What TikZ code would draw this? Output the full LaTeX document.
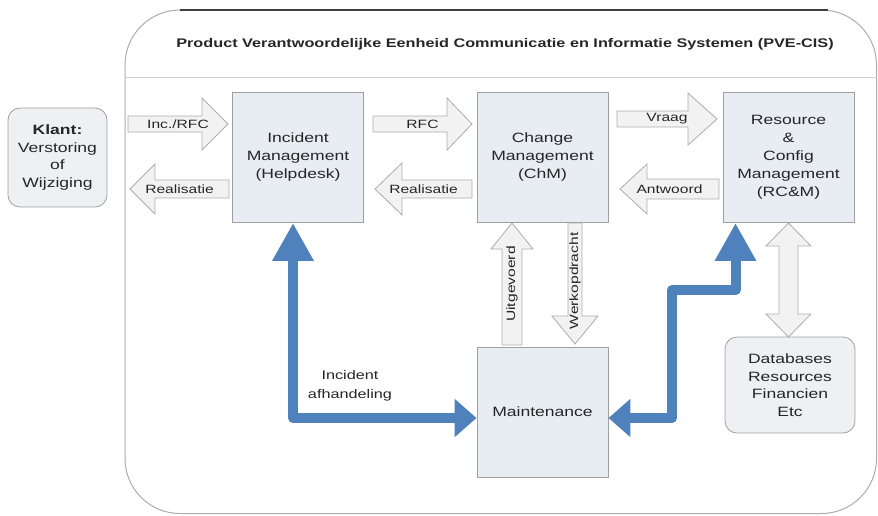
\documentclass[tikz,border=0pt]{standalone}
\usepackage{fontspec}
\setmainfont[FakeStretch=1.3]{Liberation Sans}
\usetikzlibrary{arrows.meta}
\definecolor{boxfill}{HTML}{E8ECF3}
\definecolor{roundfill}{HTML}{EEF0F3}
\definecolor{arrfill}{HTML}{F2F2F2}
\definecolor{linkblue}{HTML}{4F81BD}
\definecolor{txt}{HTML}{262626}
\tikzset{
  procbox/.style={draw=gray!75, line width=0.9pt, fill=boxfill, minimum width=131pt, minimum height=130pt, align=center, inner sep=0pt, text=txt, font=\fontsize{13.5}{18}\selectfont},
  softbox/.style={draw=gray!75, line width=0.8pt, fill=roundfill, rounded corners=12pt, align=center, inner sep=0pt, text=txt, font=\fontsize{13.5}{17.5}\selectfont},
  blockarr/.style={draw=gray!65, line width=0.8pt, fill=arrfill, line join=miter},
  lbl/.style={inner sep=0pt, text=txt, font=\fontsize{12}{14}\selectfont},
  bluelink/.style={draw=linkblue, line width=10pt, line join=round, {Triangle[width=37pt,length=22pt]}-{Triangle[width=39pt,length=38pt]}},
}
% horizontal block arrow: name, tail x, head-base x, tip x, y, body half, head half, label
\newcommand{\harrow}[8]{%
  \draw[blockarr] (#2,#5-#6) -- (#3,#5-#6) -- (#3,#5-#7) -- (#4,#5) -- (#3,#5+#7) -- (#3,#5+#6) -- (#2,#5+#6) -- cycle;
  \node[lbl] (#1) at ({(#2+#4)/2},#5) {#8};}
% vertical block arrow: name, x, tail y, head-base y, tip y, body half, head half, label
\newcommand{\varrow}[8]{%
  \draw[blockarr] (#2-#6,#3) -- (#2-#6,#4) -- (#2-#7,#4) -- (#2,#5) -- (#2+#7,#4) -- (#2+#6,#4) -- (#2+#6,#3) -- cycle;
  \node[lbl, rotate=90] (#1) at (#2,{(#3+#5)/2}) {#8};}
\begin{document}
\begin{tikzpicture}[x=1pt,y=-1pt]
\useasboundingbox (0,0) rectangle (878,515);
% container
\draw[gray!65, line width=1pt, rounded corners=55pt] (125,10) rectangle (876.5,513.5);
\draw[black!75, line width=1.6pt] (180,10) -- (828,10);
\draw[gray!35, line width=1pt] (125,77) -- (876.5,77);
\node[inner sep=0pt, text=txt, font=\bfseries\fontsize{12.5}{15}\selectfont] (title) at (505,44) {Product Verantwoordelijke Eenheid Communicatie en Informatie Systemen (PVE-CIS)};

% main boxes
\node[softbox, minimum width=99pt, minimum height=99pt] (klant) at (57.5,157.5) {\textbf{Klant:}\\Verstoring\\of\\Wijziging};
\node[procbox] (inc) at (298,157.5) {Incident\\Management\\(Helpdesk)};
\node[procbox] (chm) at (542.5,157.5) {Change\\Management\\(ChM)};
\node[procbox] (res) at (788.5,157.5) {Resource\\\&\\Config\\Management\\(RC\&M)};
\node[procbox] (maint) at (542.5,412) {Maintenance};
\node[softbox, minimum width=130pt, minimum height=96pt] (db) at (790,385) {Databases\\Resources\\Financien\\Etc};

% block arrows
\harrow{incrfc}{128}{202}{228}{124}{8}{26}{Inc./RFC}
\harrow{real1}{229}{155}{130}{189}{9}{25}{Realisatie}
\harrow{rfc}{373}{447}{472}{124}{8}{26}{RFC}
\harrow{real2}{472}{402}{375}{189}{9}{26}{Realisatie}
\harrow{vraag}{617}{688}{717}{119}{8}{26}{Vraag}
\harrow{antw}{719}{647}{620}{189}{10}{25}{Antwoord}
\varrow{uitg}{512}{345}{249}{223}{10}{21}{Uitgevoerd}
\varrow{werk}{575}{223}{316}{344}{7}{23}{}
\node[lbl, rotate=90] (werklbl) at (575,281) {Werkopdracht};
% double arrow resource <-> databases
\draw[blockarr] (779,246) -- (779,314) -- (766,314) -- (788.5,337) -- (811,314) -- (798,314) -- (798,246) -- (811,246) -- (788.5,223) -- (766,246) -- cycle;

% blue links
\draw[bluelink] ([yshift=-6pt]maint.west) -| ([xshift=-5pt]inc.south);
\draw[bluelink] ([yshift=-6pt]maint.east) -| (672,290) -| ([xshift=-53pt]res.south);
\node[lbl, align=center, font=\fontsize{12.5}{19}\selectfont] (afh) at (350,386) {Incident\\afhandeling};
\end{tikzpicture}
\end{document}
